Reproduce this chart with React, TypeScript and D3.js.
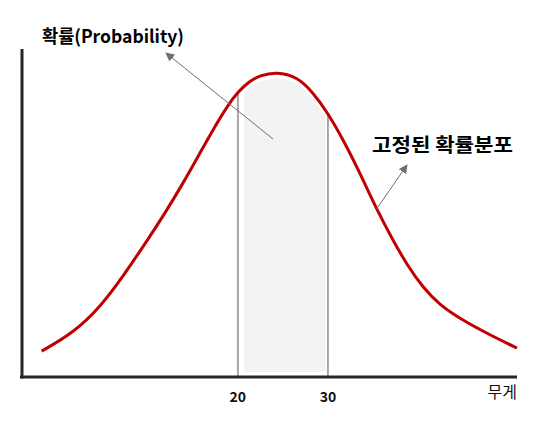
import React from "react";
import * as d3 from "d3";

// Curve samples (weight, probability %)
const weights = [-1.8, 1.7, 4.7, 7.2, 10.2, 11.9, 13.6, 15.8, 17.4, 18.9, 20.0, 21.3, 22.4, 24.3, 26.6, 28.3, 30.0, 31.9, 33.6, 35.4, 37.2, 38.8, 40.6, 42.4, 44.7, 48.0, 51.0];
const probs = [7.9, 13.4, 21.3, 30.5, 42.7, 50.0, 57.6, 68.3, 76.2, 82.9, 86.9, 90.2, 91.9, 93.1, 91.5, 86.9, 80.5, 71.3, 61.9, 51.2, 41.8, 34.1, 27.1, 22.0, 17.7, 12.8, 8.8];
const rangeBounds = [20, 30];
const tickLabels = ["20", "30"];
const titleText = "확률(Probability)";
const curveLabel = "고정된 확률분포";
const axisLabel = "무게";

const W = 552;
const H = 436;

export default function App() {
  const x = d3.scaleLinear().domain([-4.2, 51]).range([20, 517]);
  const y = d3.scaleLinear().domain([0, 100]).range([377, 49]);
  const pts: [number, number][] = weights.map((w, i) => [w, probs[i]]);

  const line = d3
    .line<[number, number]>()
    .x((d) => x(d[0]))
    .y((d) => y(d[1]))
    .curve(d3.curveBasis);
  const pathD = line(pts) || "";

  const interp = (w: number) => {
    for (let i = 0; i < weights.length - 1; i++) {
      if (w >= weights[i] && w <= weights[i + 1]) {
        const t = (w - weights[i]) / (weights[i + 1] - weights[i]);
        return probs[i] + t * (probs[i + 1] - probs[i]);
      }
    }
    return 0;
  };

  const fillStart = rangeBounds[0] + 0.7;
  const fillEnd = rangeBounds[1] - 0.3;
  const fillPts: [number, number][] = [];
  for (let i = 0; i <= 40; i++) {
    const w = fillStart + ((fillEnd - fillStart) * i) / 40;
    fillPts.push([w, interp(w)]);
  }
  const area = d3
    .area<[number, number]>()
    .x((d) => x(d[0]))
    .y0(372)
    .y1((d) => y(d[1]) + 6)
    .curve(d3.curveBasis);
  const areaD = area(fillPts) || "";

  return (
    <svg
      width={W}
      height={H}
      style={{ position: "absolute", left: 0, top: 0, background: "#fff" }}
      fontFamily="'Noto Sans CJK KR', 'Noto Sans', sans-serif"
    >
      <defs>
        <marker id="arr" viewBox="0 0 10 10" refX="9" refY="5" markerWidth="9" markerHeight="9" markerUnits="userSpaceOnUse" orient="auto">
          <path d="M0,0 L10,5 L0,10 z" fill="#6e6e6e" />
        </marker>
      </defs>

      <path d={areaD} fill="#f3f3f3" />

      {rangeBounds.map((b) => (
        <line key={b} x1={x(b)} x2={x(b)} y1={y(interp(b))} y2={377} stroke="#a6a6a6" strokeWidth={2} />
      ))}

      <path d={pathD} fill="none" stroke="#c00000" strokeWidth={3} />

      {/* axes */}
      <line x1={22} x2={22} y1={49} y2={378.5} stroke="#262626" strokeWidth={3} />
      <line x1={20} x2={517} y1={377} y2={377} stroke="#262626" strokeWidth={3} />

      {rangeBounds.map((b, i) => (
        <text key={b} x={x(b)} y={402} textAnchor="middle" fontSize={14} fontWeight="bold" fill="#111">
          {tickLabels[i]}
        </text>
      ))}
      <text x={517} y={398} textAnchor="end" fontSize={16} fill="#111">
        {axisLabel}
      </text>

      {/* annotations */}
      <text x={42} y={43} fontSize={18} fontWeight="bold" fill="#000" textLength={142} lengthAdjust="spacingAndGlyphs">
        {titleText}
      </text>
      <line x1={273} y1={139} x2={166} y2={53} stroke="#6e6e6e" strokeWidth={1} markerEnd="url(#arr)" />

      <text x={372} y={152} fontSize={19} fontWeight="bold" fill="#000" textLength={141} lengthAdjust="spacingAndGlyphs">
        {curveLabel}
      </text>
      <line x1={x(35.4)} y1={y(interp(35.4))} x2={407} y2={165} stroke="#6e6e6e" strokeWidth={1} markerEnd="url(#arr)" />
    </svg>
  );
}
